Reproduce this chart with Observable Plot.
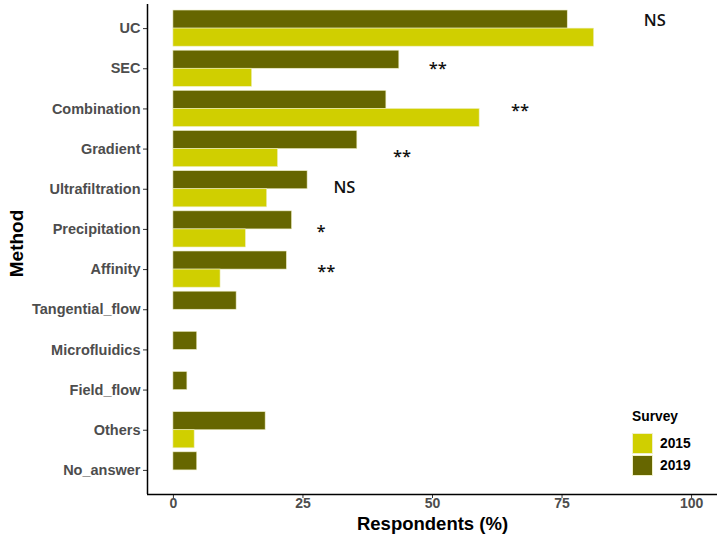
<!DOCTYPE html>
<html>
<head>
<meta charset="utf-8">
<script src="https://cdn.jsdelivr.net/npm/d3@7"></script>
<script src="https://cdn.jsdelivr.net/npm/@observablehq/plot@0.6"></script>
<style>
  html, body { margin: 0; padding: 0; background: #fff; }
  #wrap { position: relative; width: 724px; height: 538px; }
  #legend { position: absolute; left: 632px; top: 408px; font-family: "Liberation Sans", Arial, sans-serif; font-weight: bold; font-size: 13.8px; color: #000; }
  #legend .title { height: 24px; line-height: 18px; }
  #legend .row { display: flex; align-items: center; height: 22px; }
  #legend .sw { width: 21px; height: 21px; margin-right: 7px; box-sizing: border-box; border: 0.6px solid #f0f0c8; }
</style>
</head>
<body>
<div id="wrap"></div>
<script>
// Categories (top to bottom)
const methods = ["UC","SEC","Combination","Gradient","Ultrafiltration","Precipitation","Affinity","Tangential_flow","Microfluidics","Field_flow","Others","No_answer"];
// Respondents (%) per survey
const values2015 = [81.2, 15.2, 59.1, 20.2, 18.1, 14.0, 9.1, 0, 0, 0, 4.1, 0];
const values2019 = [76.1, 43.6, 41.1, 35.5, 25.9, 22.9, 21.9, 12.2, 4.6, 2.7, 17.8, 4.6];
const surveys = ["2015", "2019"];
const surveyColors = ["#d0cf00", "#666600"];
// Significance annotations (x in %, y in category units, No_answer = 1 ... UC = 12)
const sigLabels = ["NS", "**", "**", "**", "NS", "*", "**"];
const sigX = [92.9, 51.0, 66.9, 44.1, 33.0, 28.5, 29.5];
const sigY = [12.2, 11.0, 9.95, 8.8, 8.05, 6.95, 5.95];
const xTicks = [0, 25, 50, 75, 100];

const n = methods.length;
const bars = [];
methods.forEach((m, i) => {
  const pos = n - i;
  bars.push({method: m, survey: "2019", pos, value: values2019[i], y1: pos, y2: pos + 0.45});
  bars.push({method: m, survey: "2015", pos, value: values2015[i], y1: pos - 0.45, y2: pos});
});
const annos = sigLabels.map((l, i) => ({label: l, x: sigX[i], y: sigY[i]}));

const font = '"Liberation Sans", Arial, sans-serif';

const chart = Plot.plot({
  width: 724,
  height: 538,
  marginLeft: 147,
  marginRight: 7,
  marginTop: 4,
  marginBottom: 44,
  style: { fontFamily: font, background: "#fff" },
  x: { domain: [-5, 105] },
  y: { domain: [0.4, n + 0.6] },
  color: { domain: surveys, range: surveyColors },
  marks: [
    Plot.rectX(bars, {
      x1: 0, x2: "value", y1: "y1", y2: "y2",
      fill: "survey", stroke: "#eeeec4", strokeWidth: 0.6
    }),
    Plot.text(annos, {
      x: "x", y: "y", text: "label",
      fontFamily: '"Open Sans", sans-serif', fontSize: 16.5, fontWeight: 600,
      fill: "#111", lineAnchor: "middle"
    }),
    Plot.axisY({
      ticks: d3.range(1, n + 1),
      tickFormat: (d) => methods[n - d],
      tickSize: 4, tickPadding: 3,
      fontSize: 14.5, fontWeight: "bold",
      color: "#4d4d4d", stroke: "#333",
      label: null
    }),
    Plot.axisX({
      ticks: xTicks,
      tickFormat: (d) => String(d),
      tickSize: 4, tickPadding: 0,
      fontSize: 14, fontWeight: "bold",
      color: "#4d4d4d", stroke: "#333",
      label: null
    }),
    Plot.ruleX([-5], { stroke: "#000", strokeWidth: 1.5 }),
    Plot.ruleY([0.4], { stroke: "#000", strokeWidth: 1.5 }),
    Plot.text(["Respondents (%)"], {
      frameAnchor: "bottom", dy: 30,
      fontSize: 18.5, fontWeight: "bold", fill: "#000", lineAnchor: "middle"
    }),
    Plot.text(["Method"], {
      frameAnchor: "left", dx: -131, dy: -6, rotate: -90,
      fontSize: 19, fontWeight: "bold", fill: "#000", lineAnchor: "middle", textAnchor: "middle"
    })
  ]
});

const wrap = document.getElementById("wrap");
wrap.appendChild(chart);

// Legend (built from the survey arrays)
const legend = document.createElement("div");
legend.id = "legend";
const title = document.createElement("div");
title.className = "title";
title.textContent = "Survey";
legend.appendChild(title);
surveys.forEach((s, i) => {
  const row = document.createElement("div");
  row.className = "row";
  const sw = document.createElement("div");
  sw.className = "sw";
  sw.style.background = surveyColors[i];
  const lab = document.createElement("span");
  lab.textContent = s;
  row.appendChild(sw);
  row.appendChild(lab);
  legend.appendChild(row);
});
wrap.appendChild(legend);
</script>
</body>
</html>
